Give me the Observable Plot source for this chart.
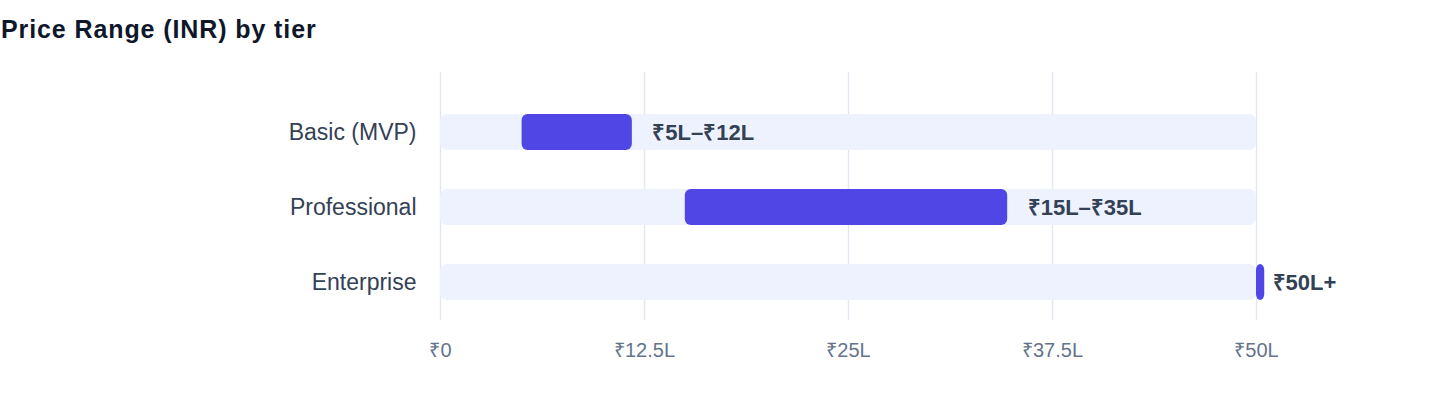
<!DOCTYPE html>
<html>
<head>
<meta charset="utf-8">
<script src="https://cdn.jsdelivr.net/npm/d3@7"></script>
<script src="https://cdn.jsdelivr.net/npm/@observablehq/plot@0.6"></script>
<style>
  html, body { margin: 0; padding: 0; background: #ffffff; }
  body { width: 1440px; height: 408px; overflow: hidden; font-family: "Liberation Sans", Arial, sans-serif; }
  #title { margin: 0; padding-top: 15px; padding-left: 1px; height: 28px; line-height: 28px; font-size: 25px; font-weight: 700; color: #0f172a; letter-spacing: 0.9px; }
  #chart svg { display: block; }
</style>
</head>
<body>
<div id="title">Price Range (INR) by tier</div>
<div id="chart"></div>
<script>
const tiers = ["Basic (MVP)", "Professional", "Enterprise"];
const lowValues = [5, 15, 50];      // lakh INR
const highValues = [12, 35, 50];    // lakh INR
const rangeLabels = ["₹5L–₹12L", "₹15L–₹35L", "₹50L+"];
const scaleMax = 50;
const tickValues = [0, 12.5, 25, 37.5, 50];
const tickLabels = ["₹0", "₹12.5L", "₹25L", "₹37.5L", "₹50L"];

const rows = tiers.map((tier, i) => ({tier, lo: lowValues[i], hi: highValues[i], label: rangeLabels[i]}));
const track = tiers.map(tier => ({tier, lo: 0, hi: scaleMax}));

const chart = Plot.plot({
  width: 1440,
  height: 337,
  marginTop: 29,
  marginBottom: 60,
  marginLeft: 440,
  marginRight: 184,
  style: {fontFamily: "'Liberation Sans', Arial, sans-serif", background: "#ffffff"},
  x: {domain: [0, scaleMax]},
  y: {domain: tiers, paddingInner: 40 / 76, paddingOuter: 30 / 76, align: 2 / 3},
  marks: [
    Plot.gridX(tickValues, {stroke: "#e2e8f0", strokeOpacity: 1, strokeWidth: 1.5}),
    Plot.barX(track, {x1: "lo", x2: "hi", y: "tier", fill: "#eef2ff", rx: 7}),
    Plot.barX(rows, {x1: "lo", x2: d => Math.max(d.hi, d.lo + 0.75), y: "tier", fill: "#4f46e5", rx: 6, insetRight: 4}),
    Plot.text(rows, {x: "hi", y: "tier", text: "label", textAnchor: "start", dx: 16, fontSize: 22, fontWeight: 700, fill: "#334155"}),
    Plot.axisY({tickSize: 0, tickPadding: 24, fontSize: 23, color: "#334155", label: null}),
    Plot.axisX({ticks: tickValues, tickFormat: d => tickLabels[tickValues.indexOf(d)], tickSize: 0, tickPadding: 22, fontSize: 20, color: "#64748b", label: null})
  ]
});
document.getElementById("chart").appendChild(chart);
</script>
</body>
</html>
